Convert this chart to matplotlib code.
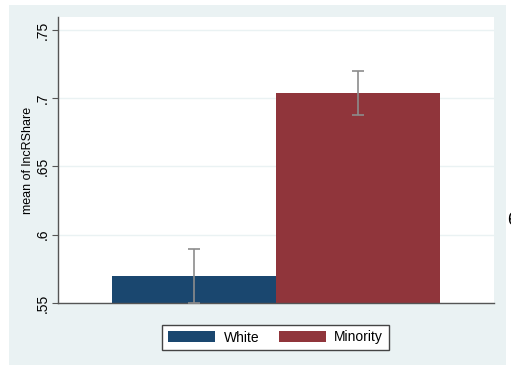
import matplotlib
matplotlib.use("Agg")
import matplotlib.pyplot as plt
from matplotlib.patches import Rectangle, Patch

plt.rcParams["font.family"] = ["Liberation Sans", "DejaVu Sans"]

# Data
groups = ["White", "Minority"]
means = [0.5698, 0.7035]
ci_low = [0.5501, 0.6876]
ci_high = [0.5895, 0.7198]
colors = ["#1a476f", "#90353b"]
yticks = [0.55, 0.60, 0.65, 0.70, 0.75]
ytick_labels = [".55", ".6", ".65", ".7", ".75"]

W, H = 511, 365
fig = plt.figure(figsize=(W / 100, H / 100), dpi=100)
fig.patch.set_facecolor("white")

# Stata-style outer background panel
bg = "#eaf2f3"
fig.patches.append(Rectangle((9 / W, 0), (506 - 9) / W, (H - 5) / H,
                             transform=fig.transFigure, facecolor=bg,
                             edgecolor="none", zorder=-5))

left, right, top, bottom = 58, 494, 17, 303
ax = fig.add_axes([left / W, 1 - bottom / H, (right - left) / W, (bottom - top) / H])
ax.set_zorder(2)
ax.set_facecolor("white")

x = [0, 1]
ax.bar(x, [m - 0.55 for m in means], bottom=0.55, width=1.0, color=colors,
       edgecolor="none", zorder=2)
yerr = [[m - lo for m, lo in zip(means, ci_low)],
        [hi - m for m, hi in zip(means, ci_high)]]
ax.errorbar(x, means, yerr=yerr, fmt="none", ecolor="#8c8c8c", elinewidth=1.2,
            capsize=4, capthick=1.2, zorder=3)

ax.set_xlim(-0.5 - 0.329, 1.5 + 0.329)
ax.set_ylim(0.55, 0.7595)
ax.set_yticks(yticks)
ax.set_yticklabels(ytick_labels, rotation=90, va="center", fontsize=10)
ax.set_xticks([])
ax.grid(axis="y", color="#eaf2f3", linewidth=1.0, zorder=1)
ax.set_axisbelow(True)
for s in ["top", "right"]:
    ax.spines[s].set_visible(False)
for s in ["left", "bottom"]:
    ax.spines[s].set_color("#555555")
    ax.spines[s].set_linewidth(1.0)
ax.tick_params(axis="y", length=4, width=0.8, color="#555555", pad=2)
ax.set_ylabel("mean of lncRShare", fontsize=9, labelpad=1)

handles = [Patch(facecolor=c, edgecolor="none", label=g) for c, g in zip(colors, groups)]
leg = fig.legend(handles=handles, loc="center", ncol=2,
                 bbox_to_anchor=(275.5 / W, 1 - 337.5 / H), fontsize=10,
                 frameon=True, fancybox=False, handlelength=3.4, handleheight=0.9,
                 columnspacing=1.4, handletextpad=0.6, borderpad=0.4,
                 borderaxespad=0)
leg.get_frame().set_edgecolor("#444444")
leg.get_frame().set_linewidth(1.0)
leg.get_frame().set_alpha(1.0)

# Partial glyph at the right edge
fig.text(507 / W, 1 - 221 / H, "6", fontsize=13, va="center", ha="left")

fig.savefig("out.png", dpi=100, facecolor=fig.get_facecolor())
